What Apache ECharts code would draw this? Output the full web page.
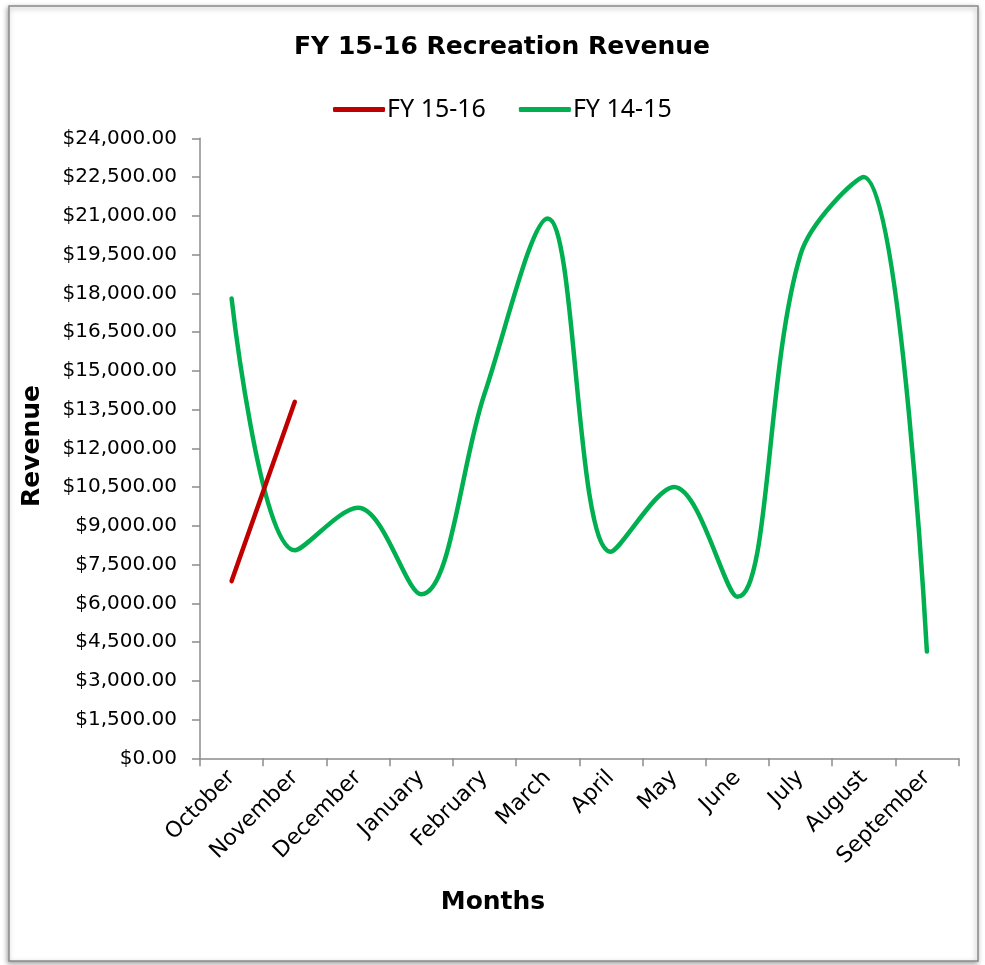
<!DOCTYPE html>
<html>
<head>
<meta charset="utf-8">
<script src="https://cdn.jsdelivr.net/npm/echarts@6/dist/echarts.min.js"></script>
<style>
html,body{margin:0;padding:0;background:#fff;}
#chart{width:985px;height:965px;}
</style>
</head>
<body>
<div id="chart"></div>
<script>
var months = ['October','November','December','January','February','March','April','May','June','July','August','September'];
var fy1516 = [6860, 13800];
var fy1415 = [17800, 8050, 9700, 6350, 14100, 20900, 8000, 10500, 6250, 19500, 22500, 4130];
var yMin = 0, yMax = 24000, yStep = 1500;
var titleText = 'FY 15-16 Recreation Revenue';
var xName = 'Months';
var yName = 'Revenue';

function money(v){
  var s = Math.round(v).toString().replace(/\B(?=(\d{3})+(?!\d))/g, ',');
  return '$' + s + '.00';
}

var chart = echarts.init(document.getElementById('chart'), null, {renderer:'canvas'});
chart.setOption({
  backgroundColor: '#ffffff',
  animation: false,
  graphic: [
    {type:'rect', z:-1, shape:{x:9, y:6, width:969, height:955},
     style:{fill:'#ffffff', stroke:'#8a8a8a', lineWidth:1.5, shadowBlur:5, shadowColor:'rgba(0,0,0,0.35)', shadowOffsetX:-1, shadowOffsetY:2}},
    {type:'text', z:10, x:502, y:47,
     style:{text:titleText, font:'bold 25px "DejaVu Sans", sans-serif', fill:'#000', align:'center', verticalAlign:'middle'}},
    {type:'text', z:10, x:493, y:902,
     style:{text:xName, font:'bold 25px "DejaVu Sans", sans-serif', fill:'#000', align:'center', verticalAlign:'middle'}},
    {type:'text', z:10, x:32, y:446, rotation:Math.PI/2,
     style:{text:yName, font:'bold 25px "DejaVu Sans", sans-serif', fill:'#000', align:'center', verticalAlign:'middle'}}
  ],
  legend: {
    data: [
      {name:'FY 15-16', icon:'roundRect'},
      {name:'FY 14-15', icon:'roundRect'}
    ],
    left: 328, top: 92,
    itemWidth: 52, itemHeight: 5, itemGap: 33,
    textStyle: {fontFamily:'"Liberation Sans Narrow", "Noto Sans", sans-serif', fontSize:25, color:'#000', padding:[0,0,0,-3]}
  },
  grid: {left:200, right:26.5, top:138.3, bottom:206.7, containLabel:false},
  xAxis: {
    type:'category', data: months, boundaryGap:true,
    axisLine:{show:true, lineStyle:{color:'#8c8c8c', width:1.5}},
    axisTick:{show:true, length:8, alignWithLabel:false, lineStyle:{color:'#8c8c8c', width:1.5}},
    axisLabel:{rotate:45, margin:16, interval:0, fontFamily:'"DejaVu Sans", sans-serif', fontSize:22, color:'#000'},
    splitLine:{show:false}
  },
  yAxis: {
    type:'value', min:yMin, max:yMax, interval:yStep,
    axisLine:{show:true, lineStyle:{color:'#8c8c8c', width:1.5}},
    axisTick:{show:true, length:8, lineStyle:{color:'#8c8c8c', width:1.5}},
    axisLabel:{margin:23, fontFamily:'"DejaVu Sans", sans-serif', fontSize:20, color:'#000', formatter: money},
    splitLine:{show:false}
  },
  series: [
    {name:'FY 15-16', type:'line', data: fy1516, smooth:0.35, showSymbol:false, symbol:'none',
     itemStyle:{color:'#C00000'}, lineStyle:{color:'#C00000', width:4.5, cap:'round'}, z:3},
    {name:'FY 14-15', type:'line', data: fy1415, smooth:0.35, showSymbol:false, symbol:'none',
     itemStyle:{color:'#00B050'}, lineStyle:{color:'#00B050', width:4.5, cap:'round'}, z:2}
  ]
});
</script>
</body>
</html>
